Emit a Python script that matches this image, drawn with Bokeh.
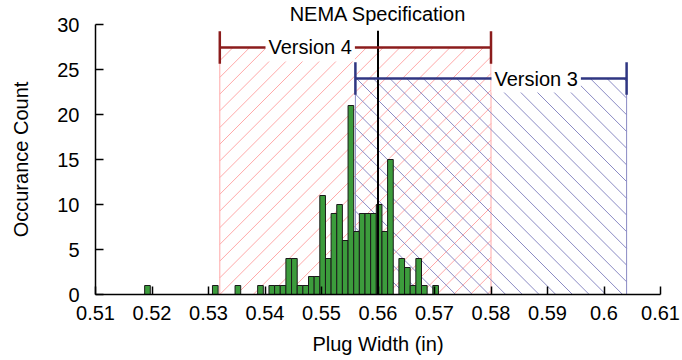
import numpy as np
from bokeh.plotting import figure
from bokeh.models import Range1d, FixedTicker, CustomJSTickFormatter, Label, ColumnDataSource
from bokeh.embed import file_html
from bokeh.resources import INLINE

# Histogram of measured plug widths (inches), 0.001 in bins
bin_start = 0.5187
bin_width = 0.001
counts = [1, 0, 0, 0, 0, 0, 0, 0, 0, 0, 0, 0, 1, 0, 0, 0, 1, 0, 0, 0,
          1, 0, 1, 1, 1, 4, 4, 1, 1, 2, 2, 11, 4, 9, 10, 6, 21, 7, 9, 9,
          9, 10, 7, 15, 0, 4, 3, 1, 4, 1, 0, 1]

# Specification values
nema_spec = 0.56
nema_top = 29.3
version4_range = [0.532, 0.58]
version3_range = [0.556, 0.604]
version4_level = 27.45
version3_level = 24.0
bracket_half = 1.8

x_ticks = [0.51, 0.52, 0.53, 0.54, 0.55, 0.56, 0.57, 0.58, 0.59, 0.60, 0.61]
y_ticks = [0, 5, 10, 15, 20, 25, 30]

X_RANGE = (0.51, 0.61)
Y_RANGE = (0, 30)
W, H = 682, 360
BORDER_L, BORDER_R, BORDER_T, BORDER_B = 95, 22, 24, 66
FRAME_W = W - BORDER_L - BORDER_R
FRAME_H = H - BORDER_T - BORDER_B

FONT = "Liberation Sans"
FSIZE = "20px"
RED = "#8b1c1c"
RED_HATCH = "#ffa8a8"
BLUE = "#2f3682"
BLUE_HATCH = "#8a8ac4"
HATCH_SPACING = 16.7  # pixels, measured along x


def hatch_lines(x0, x1, y0, y1, spacing, rising):
    """45-degree (on screen) hatch lines clipped to a data rectangle."""
    sx = FRAME_W / (X_RANGE[1] - X_RANGE[0])
    sy = FRAME_H / (Y_RANGE[1] - Y_RANGE[0])
    w, h = (x1 - x0) * sx, (y1 - y0) * sy
    xs0, ys0, xs1, ys1 = [], [], [], []
    if rising:   # u - v = c
        cs = np.arange(-h + (h % spacing), w, spacing)
        for c in cs:
            va, vb = max(0.0, -c), min(h, w - c)
            if vb > va:
                xs0.append(va + c); ys0.append(va); xs1.append(vb + c); ys1.append(vb)
    else:        # u + v = c
        cs = np.arange(spacing, w + h, spacing)
        for c in cs:
            va, vb = max(0.0, c - w), min(h, c)
            if vb > va:
                xs0.append(c - va); ys0.append(va); xs1.append(c - vb); ys1.append(vb)
    to_x = lambda u: [x0 + v / sx for v in u]
    to_y = lambda u: [y0 + v / sy for v in u]
    return dict(x0=to_x(xs0), y0=to_y(ys0), x1=to_x(xs1), y1=to_y(ys1))


p = figure(width=W, height=H, x_range=Range1d(*X_RANGE), y_range=Range1d(*Y_RANGE),
           output_backend="svg", toolbar_location=None,
           min_border_left=BORDER_L, min_border_right=BORDER_R,
           min_border_top=BORDER_T, min_border_bottom=BORDER_B)
p.grid.visible = False
p.outline_line_color = None
p.background_fill_color = "white"

# Title doubles as the caption of the NEMA line, which sits at the centre of the x range
p.title.text = "NEMA Specification"
p.title.align = "center"
p.title.text_font = FONT
p.title.text_font_size = FSIZE
p.title.text_font_style = "normal"
p.title.text_color = "black"
p.title.standoff = 0

# Tolerance bands: outline plus diagonal hatching
for (lo, hi), lvl, col, rising in ((version4_range, version4_level, RED_HATCH, True),
                                   (version3_range, version3_level, BLUE_HATCH, False)):
    p.quad(left=[lo], right=[hi], bottom=[0], top=[lvl],
           fill_color=None, line_color=col, line_width=1)
    p.segment(source=ColumnDataSource(hatch_lines(lo, hi, 0, lvl, HATCH_SPACING, rising)),
              x0="x0", y0="y0", x1="x1", y1="y1", line_color=col, line_width=1)

# Histogram bars (empty bins are not drawn)
lefts = bin_start + bin_width * np.arange(len(counts))
nz = ColumnDataSource(dict(
    left=[l for l, c in zip(lefts, counts) if c > 0],
    right=[l + bin_width for l, c in zip(lefts, counts) if c > 0],
    top=[c for c in counts if c > 0]))
p.quad(left="left", right="right", bottom=0, top="top", source=nz,
       fill_color="#3c9c3c", line_color="#1a1a1a", line_width=1)

# NEMA specification line
p.line(x=[nema_spec, nema_spec], y=[0, nema_top], line_color="black", line_width=2)

# Version brackets
for (lo, hi), lvl, col in ((version4_range, version4_level, RED),
                           (version3_range, version3_level, BLUE)):
    p.segment(x0=[lo, lo, hi], y0=[lvl, lvl - bracket_half, lvl - bracket_half],
              x1=[hi, lo, hi], y1=[lvl, lvl + bracket_half, lvl + bracket_half],
              line_color=col, line_width=2.5)

label_kw = dict(text_font=FONT, text_font_size=FSIZE, text_color="black",
                text_align="center", text_baseline="middle",
                background_fill_color="white", padding=3)
p.add_layout(Label(x=0.548, y=version4_level, text="Version 4", **label_kw))
p.add_layout(Label(x=0.588, y=version3_level, text="Version 3", **label_kw))

# Axes
for ax in (p.xaxis[0], p.yaxis[0]):
    ax.axis_line_color = "black"
    ax.axis_line_width = 1.5
    ax.major_tick_line_color = "black"
    ax.major_tick_line_width = 1.5
    ax.major_tick_in = 8
    ax.major_tick_out = 0
    ax.minor_tick_line_color = None
    ax.major_label_text_font = FONT
    ax.major_label_text_font_size = FSIZE
    ax.major_label_text_color = "black"
    ax.axis_label_text_font = FONT
    ax.axis_label_text_font_size = FSIZE
    ax.axis_label_text_font_style = "normal"
    ax.axis_label_text_color = "black"

p.xaxis.ticker = FixedTicker(ticks=x_ticks)
p.xaxis.formatter = CustomJSTickFormatter(code="return String(Math.round(tick * 100) / 100);")
p.xaxis.major_label_standoff = 11
p.xaxis.axis_label = "Plug Width (in)"
p.xaxis.axis_label_standoff = 10

p.yaxis.ticker = FixedTicker(ticks=y_ticks)
p.yaxis.major_label_standoff = 16
p.yaxis.axis_label = "Occurance Count"
p.yaxis.axis_label_standoff = 22

open("out.html", "w").write(file_html(p, INLINE))
